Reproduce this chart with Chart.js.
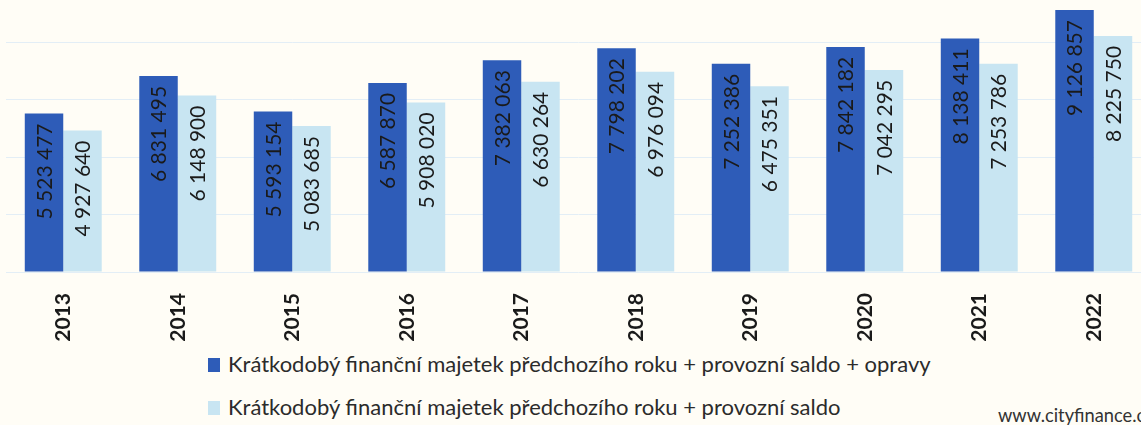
<!DOCTYPE html>
<html>
<head>
<meta charset="utf-8">
<script src="https://cdn.jsdelivr.net/npm/chart.js@4.4.1/dist/chart.umd.min.js"></script>
<style>
  html, body { margin:0; padding:0; background:#fffdf6; width:1141px; height:425px; overflow:hidden; }
  #wrap { position:absolute; left:0; top:-15px; width:1152px; height:360px; }
  .leg { position:absolute; left:208px; font-family: Lato, "Noto Sans", sans-serif; font-size:22px; color:#2b2b2b; white-space:nowrap; }
  .sw { display:inline-block; width:12px; height:14px; margin-right:8px; vertical-align:0px; }
  #wm { position:absolute; left:998px; top:404px; font-family: Lato, sans-serif; font-size:18.3px; color:#333; white-space:nowrap; }
</style>
</head>
<body>
<div id="wrap"><canvas id="c" width="1152" height="360"></canvas></div>
<div class="leg" id="l1" style="top:350px;"><span class="sw" style="background:#2e5cb8"></span><span id="t1"></span></div>
<div class="leg" id="l2" style="top:393px;"><span class="sw" style="background:#c8e5f2"></span><span id="t2"></span></div>
<div id="wm">www.cityfinance.cz</div>
<script>
const categories = ["2013","2014","2015","2016","2017","2018","2019","2020","2021","2022"];
const seriesNames = [
  "Krátkodobý finanční majetek předchozího roku + provozní saldo + opravy",
  "Krátkodobý finanční majetek předchozího roku + provozní saldo"
];
const withRepairs = [5523477, 6831495, 5593154, 6587870, 7382063, 7798202, 7252386, 7842182, 8138411, 9126857];
const withoutRepairs = [4927640, 6148900, 5083685, 5908020, 6630264, 6976094, 6475351, 7042295, 7253786, 8225750];
const yTicks = [0, 2000000, 4000000, 6000000, 8000000, 10000000];
const colors = ["#2e5cb8", "#c8e5f2"];

document.getElementById('t1').textContent = seriesNames[0];
document.getElementById('t2').textContent = seriesNames[1];

function fmt(v){ return String(v).replace(/\B(?=(\d{3})+(?!\d))/g, " "); }

const labelPlugin = {
  id: 'vlabels',
  afterDatasetsDraw(chart){
    const ctx = chart.ctx;
    chart.data.datasets.forEach((ds, di) => {
      const meta = chart.getDatasetMeta(di);
      meta.data.forEach((bar, i) => {
        ctx.save();
        ctx.translate(bar.x, bar.y + 10);
        ctx.rotate(-Math.PI/2);
        ctx.font = '21px Lato, "Noto Sans", sans-serif';
        ctx.fillStyle = '#1a1a1a';
        ctx.textAlign = 'right';
        ctx.textBaseline = 'middle';
        ctx.fillText(fmt(ds.data[i]), 0, 1);
        ctx.restore();
      });
    });
  }
};

new Chart(document.getElementById('c'), {
  type: 'bar',
  data: {
    labels: categories,
    datasets: [
      { label: seriesNames[0], data: withRepairs, backgroundColor: colors[0], categoryPercentage: 0.672, barPercentage: 1.0 },
      { label: seriesNames[1], data: withoutRepairs, backgroundColor: colors[1], categoryPercentage: 0.672, barPercentage: 1.0 }
    ]
  },
  options: {
    responsive: false,
    animation: false,
    layout: { padding: { left: 6, right: 1, top: 0, bottom: 0 } },
    plugins: { legend: { display: false }, tooltip: { enabled: false } },
    scales: {
      x: {
        grid: { display: false },
        border: { display: false },
        ticks: { minRotation: 90, maxRotation: 90, padding: 13, color: '#1a1a1a',
                 font: { family: 'Lato, "Noto Sans", sans-serif', size: 21, weight: 'bold' } },
        afterFit(s){ s.height = 73; }
      },
      y: {
        min: 0, max: 10000000,
        ticks: { display: false },
        afterBuildTicks(s){ s.ticks = yTicks.map(v => ({ value: v })); },
        border: { display: false },
        grid: { color: '#e3eef6', lineWidth: 1, drawTicks: false },
        afterFit(s){ s.width = 0; }
      }
    }
  },
  plugins: [labelPlugin]
});
</script>
</body>
</html>
